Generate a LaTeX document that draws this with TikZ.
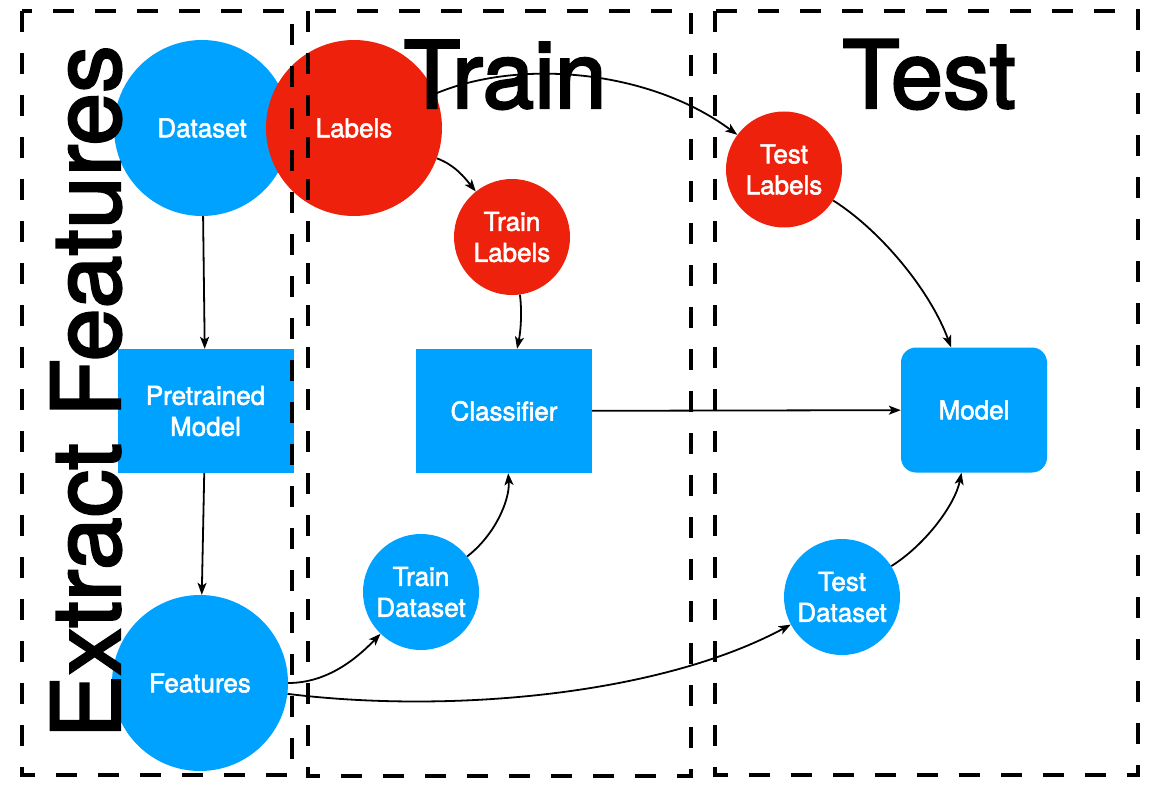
\documentclass[tikz,border=0pt]{standalone}
\usepackage{fontspec}
\setmainfont{TeX Gyre Heros}
\newfontfamily\heavyfont[FakeBold=2.5]{TeX Gyre Heros}
\newfontfamily\labelfont[FakeBold=2.2]{TeX Gyre Heros}
\usetikzlibrary{arrows.meta}
\definecolor{nodeblue}{RGB}{0,162,255}
\definecolor{nodered}{RGB}{238,34,12}
\begin{document}
\begin{tikzpicture}[x=1pt,y=-1pt,
  lbl/.style={text=white, font=\labelfont\fontsize{26}{31}\selectfont, align=center, inner sep=0pt},
  bluefill/.style={fill=nodeblue},
  redfill/.style={fill=nodered},
  bigc/.style={lbl, circle, minimum size=176pt},
  smallc/.style={lbl, circle, minimum size=116pt},
  boxnode/.style={lbl, rectangle, fill=nodeblue, minimum width=176pt, minimum height=124pt},
  title/.style={font=\heavyfont\fontsize{90}{90}\selectfont, inner sep=0pt, anchor=base},
  region/.style={draw, line width=3.5pt, dash pattern=on 21pt off 21pt},
  arr/.style={-{Stealth[length=12pt,width=9pt,inset=3pt]}, line width=1.8pt}]
\useasboundingbox (0,0) rectangle (1160,789);
% nodes
\node[bigc,bluefill] (dataset) at (202,128) {Dataset};
\node[bigc,redfill] (labels) at (354,128) {Labels};
\node[smallc,redfill] (trainlabels) at (512,237) {Train\\Labels};
\node[smallc,redfill] (testlabels) at (784,169.5) {Test\\Labels};
\node[boxnode] (pretrained) at (205.5,411) {Pretrained\\Model};
\node[boxnode] (classifier) at (504,411) {Classifier};
\node[boxnode, minimum width=146pt, minimum height=125pt, rounded corners=15pt] (model) at (974,410) {Model};
\node[bigc,bluefill] (features) at (200,683) {Features};
\node[smallc,bluefill] (traindataset) at (421,592) {Train\\Dataset};
\node[smallc,bluefill] (testdataset) at (842,597) {Test\\Dataset};
% titles
\node[title, font=\heavyfont\fontsize{93}{93}\selectfont] (ttrain) at (505,108) {Train};
\node[title, font=\heavyfont\fontsize{94}{94}\selectfont] (ttest) at (929,108) {Test};
\node[title, font=\heavyfont\fontsize{95}{95}\selectfont, rotate=90] (textract) at (120,392) {Extract Features};
% dashed regions
\draw[region] (22,11) rectangle (292,775);
\draw[region] (308,11) rectangle (691,776);
\draw[region] (715,11) rectangle (1138,775);
% connectors
\draw[arr] (dataset) -- (pretrained);
\draw[arr] (pretrained) -- (features);
\draw[arr] (features) .. controls (330,683) and (360,655) .. (traindataset);
\draw[arr] (features) .. controls (450,714) and (660,695) .. (testdataset);
\draw[arr] (traindataset) .. controls (495,535) and (510,500) .. (classifier);
\draw[arr] (trainlabels) .. controls (522,310) and (521,330) .. (classifier);
\draw[arr] (labels) .. controls (455,165) and (465,178) .. (trainlabels);
\draw[arr] (labels) .. controls (520,58) and (650,70) .. (testlabels);
\draw[arr] (classifier) -- (model);
\draw[arr] (testlabels) .. controls (880,230) and (930,290) .. (model);
\draw[arr] (testdataset) .. controls (925,545) and (955,505) .. (model);
\end{tikzpicture}
\end{document}
